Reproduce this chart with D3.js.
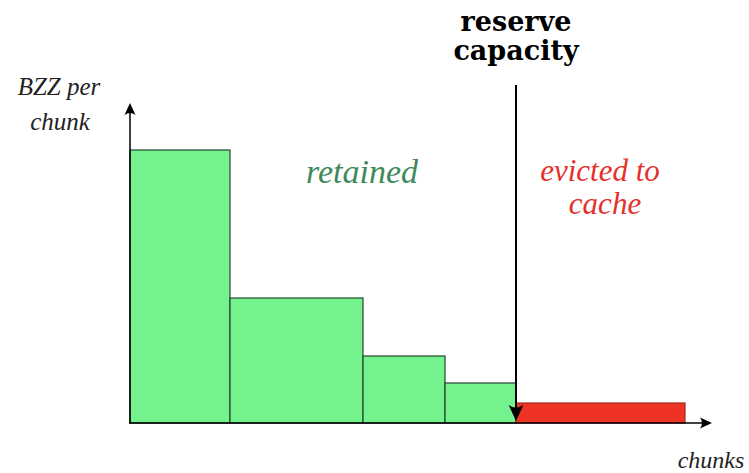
<!DOCTYPE html>
<html>
<head>
<meta charset="utf-8">
<script src="https://cdn.jsdelivr.net/npm/d3@7"></script>
<style>
  body { margin: 0; background: #fff; }
  svg { display: block; }
  .lbl { font-family: "Liberation Serif", "DejaVu Serif", serif; font-style: italic; }
  .bold { font-family: "DejaVu Serif", serif; font-weight: bold; }
</style>
</head>
<body>
<div id="chart"></div>
<script>
// chunks, in order, width along the x axis and BZZ per chunk
var chunkWidths = [1.0, 1.33, 0.82, 0.71, 1.69]
var chunkValues = [2.73, 1.25, 0.67, 0.40, 0.20]
var chunkKind = ["retained", "retained", "retained", "retained", "evicted"]
var reserveAt = 3.86

var width = 749, height = 473
var margin = {top: 103, right: 37, bottom: 50, left: 130}

var x = d3.scaleLinear().domain([0, 5.82]).range([margin.left, width - margin.right])
var y = d3.scaleLinear().domain([0, 3.2]).range([height - margin.bottom, margin.top])

var svg = d3.select("#chart").append("svg")
  .attr("width", width)
  .attr("height", height)

// latex style arrow head, tip at (0,0) pointing along +x
function arrowHead(g, tx, ty, angle, size) {
  var s = size / 12
  g.append("path")
    .attr("d", "M-12,-5.5 Q-8,0 -12,5.5 L0,0 Z")
    .attr("transform", "translate(" + tx + "," + ty + ") rotate(" + angle + ") scale(" + s + ")")
    .attr("fill", "#000")
}

// build bar positions from widths
var starts = []
var acc = 0
chunkWidths.forEach(function (w) { starts.push(acc); acc += w })

var bars = chunkValues.map(function (v, i) {
  return {x0: starts[i], w: chunkWidths[i], v: v, kind: chunkKind[i]}
})

svg.append("g").selectAll("rect")
  .data(bars)
  .enter().append("rect")
  .attr("x", function (d) { return x(d.x0) })
  .attr("y", function (d) { return y(d.v) })
  .attr("width", function (d) { return x(d.x0 + d.w) - x(d.x0) })
  .attr("height", function (d) { return y(0) - y(d.v) })
  .attr("fill", function (d) { return d.kind == "retained" ? "#74f28e" : "#ee3224" })
  .attr("stroke", function (d) { return d.kind == "retained" ? "#22472c" : "#a8271d" })
  .attr("stroke-width", 1.2)

// axes
var axes = svg.append("g")
axes.append("line")
  .attr("x1", x(0)).attr("y1", y(0))
  .attr("x2", x(0)).attr("y2", y(3.2) + 4)
  .attr("stroke", "#000").attr("stroke-width", 1.5)
arrowHead(axes, x(0), y(3.2), -90, 12)

axes.append("line")
  .attr("x1", x(0) - 1).attr("y1", y(0))
  .attr("x2", x(5.82) - 4).attr("y2", y(0))
  .attr("stroke", "#000").attr("stroke-width", 1.5)
arrowHead(axes, x(5.82), y(0), 0, 12)

// reserve capacity line
axes.append("line")
  .attr("x1", x(reserveAt)).attr("y1", 85)
  .attr("x2", x(reserveAt)).attr("y2", y(0) - 6)
  .attr("stroke", "#000").attr("stroke-width", 2)
arrowHead(axes, x(reserveAt), y(0) - 2, 90, 16)

svg.append("text").attr("class", "bold")
  .attr("x", x(reserveAt)).attr("y", 31)
  .attr("text-anchor", "middle").attr("font-size", 27)
  .text("reserve")
svg.append("text").attr("class", "bold")
  .attr("x", x(reserveAt)).attr("y", 60)
  .attr("text-anchor", "middle").attr("font-size", 27)
  .text("capacity")

// labels
svg.append("text").attr("class", "lbl")
  .attr("x", 362).attr("y", 183)
  .attr("text-anchor", "middle").attr("font-size", 34)
  .attr("fill", "#3d8a58")
  .text("retained")

svg.append("text").attr("class", "lbl")
  .attr("x", 600).attr("y", 181)
  .attr("text-anchor", "middle").attr("font-size", 31)
  .attr("fill", "#e5302c")
  .text("evicted to")
svg.append("text").attr("class", "lbl")
  .attr("x", 605).attr("y", 214)
  .attr("text-anchor", "middle").attr("font-size", 31)
  .attr("fill", "#e5302c")
  .text("cache")

svg.append("text").attr("class", "lbl")
  .attr("x", 59).attr("y", 95)
  .attr("text-anchor", "middle").attr("font-size", 25)
  .attr("fill", "#222")
  .text("BZZ per")
svg.append("text").attr("class", "lbl")
  .attr("x", 60).attr("y", 130)
  .attr("text-anchor", "middle").attr("font-size", 25)
  .attr("fill", "#222")
  .text("chunk")

svg.append("text").attr("class", "lbl")
  .attr("x", 711).attr("y", 468)
  .attr("text-anchor", "middle").attr("font-size", 24)
  .attr("fill", "#222")
  .text("chunks")
</script>
</body>
</html>
